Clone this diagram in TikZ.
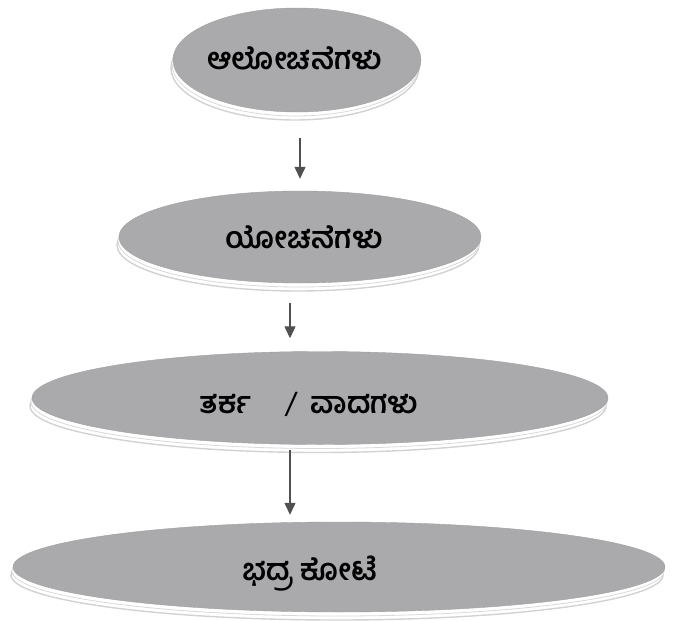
\documentclass[tikz,border=0pt]{standalone}
\usepackage{fontspec}
\usepackage{tikz}
\usetikzlibrary{arrows.meta}
\usetikzlibrary{shapes.geometric}
\newfontfamily\kanfont[Script=Kannada]{Hind Mysuru}
\definecolor{platefill}{RGB}{170,170,173}
\definecolor{arrowgray}{RGB}{80,80,82}
\tikzset{plate/.style = {ellipse, fill=platefill, draw=gray!75, line width=0.4pt, inner sep=0pt,
                         preaction={draw=gray!35, line width=1.4pt, fill=white,
                                    transform canvas={shift={(-2pt,-8pt)}}},
                         preaction={draw=gray!30, line width=0.8pt, fill=white,
                                    transform canvas={shift={(-1pt,-4pt)}}}}}
\tikzset{platetext/.style = {font=\kanfont\bfseries\fontsize{30}{34}\selectfont, inner sep=0pt}}
\tikzset{flow/.style = {draw=arrowgray, line width=1.3pt,
                        -{Triangle[length=12pt,width=11pt]}}}

\begin{document}
\begin{tikzpicture}[x=1pt, y=-1pt]
				\useasboundingbox (0,0) rectangle (683,621);
				\node [plate, minimum width=248pt, minimum height=104pt] (alo) at (297, 60) {};
				\node [plate, minimum width=362pt, minimum height=92pt] (yoc) at (300, 237) {};
				\node [plate, minimum width=576pt, minimum height=93pt] (tar) at (320, 398) {};
				\node [plate, minimum width=652pt, minimum height=90pt] (kot) at (339, 567) {};
				\node [platetext] (alotext) at (295, 58) {ಆಲೋಚನೆಗಳು};
				\node [platetext] (yoctext) at (304, 237) {ಯೋಚನೆಗಳು};
				\node [platetext] (tartext) at (309, 404) {ತರ್ಕ\hspace{1.1em}{\mdseries /}\hspace{0.45em}ವಾದಗಳು};
				\node [platetext] (kottext) at (310, 574) {ಭದ್ರ ಕೋಟೆ};
				\draw [flow] ([xshift=3pt, yshift=-26pt]alo.south) to ([xshift=0pt, yshift=12pt]yoc.north);
				\draw [flow] ([xshift=-10pt, yshift=-20pt]yoc.south) to ([xshift=-30pt, yshift=13pt]tar.north);
				\draw [flow] ([xshift=-30pt, yshift=-5pt]tar.south) to ([xshift=-49pt, yshift=7pt]kot.north);
		\end{tikzpicture}
\end{document}
